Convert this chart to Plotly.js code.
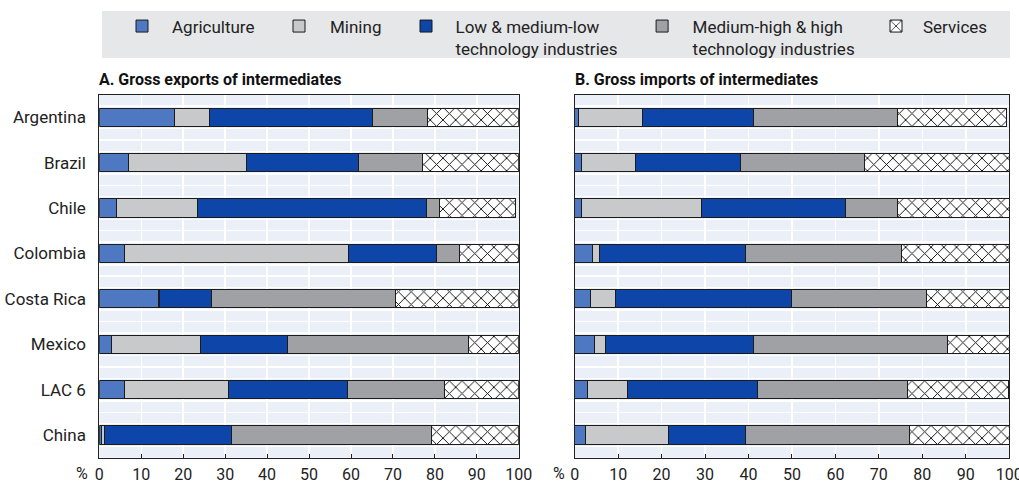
<!DOCTYPE html>
<html>
<head>
<meta charset="utf-8">
<script src="https://cdn.plot.ly/plotly-3.0.1.min.js"></script>
<style>html,body{margin:0;padding:0;background:#fff;}#chart{width:1019px;height:483px;}</style>
</head>
<body>
<div id="chart"></div>
<script>
// ---- data ----
const categories = ['Argentina', 'Brazil', 'Chile', 'Colombia', 'Costa Rica', 'Mexico', 'LAC 6', 'China'];
const seriesNames = ['Agriculture', 'Mining', 'Low & medium-low<br>technology industries', 'Medium-high & high<br>technology industries', 'Services'];

// Panel A: gross exports of intermediates (%)
const agricultureA = [17.9, 7.0, 4.0, 6.0, 14.1, 2.9, 6.1, 0.6];
const miningA      = [8.3, 28.2, 19.4, 53.5, 0.2, 21.2, 24.8, 0.6];
const lowTechA     = [38.9, 26.5, 54.7, 20.9, 12.4, 20.8, 28.2, 30.4];
const highTechA    = [13.2, 15.4, 3.0, 5.4, 43.9, 43.1, 23.2, 47.7];
const servicesA    = [21.7, 22.9, 18.2, 14.2, 29.4, 12.0, 17.7, 20.7];

// Panel B: gross imports of intermediates (%)
const agricultureB = [0.9, 1.5, 1.5, 4.1, 3.7, 4.6, 2.9, 2.4];
const miningB      = [14.8, 12.5, 27.7, 1.6, 5.6, 2.6, 9.2, 19.3];
const lowTechB     = [25.5, 24.2, 33.1, 33.5, 40.6, 33.9, 30.0, 17.7];
const highTechB    = [33.1, 28.5, 12.1, 35.9, 31.1, 44.7, 34.5, 37.7];
const servicesB    = [25.0, 33.3, 25.6, 24.9, 19.0, 14.2, 23.2, 22.9];

const xTickVals = [0, 10, 20, 30, 40, 50, 60, 70, 80, 90, 100];
const panelTitles = ['A. Gross exports of intermediates', 'B. Gross imports of intermediates'];

// ---- styling ----
const FONT = 'Roboto, "Liberation Sans", Arial, sans-serif';
const colors = ['#4f78c3', '#c8c9cb', '#0d45a8', '#a0a1a4', '#ffffff'];
const W = 1019, H = 483;
const px = v => v / W, py = v => 1 - v / H;

const yPos = categories.map((c, i) => i);
const boundaries = categories.slice(1).map((c, i) => i + 0.5);
const quarterGrid = [];
categories.forEach((c, i) => { quarterGrid.push(i - 0.5, i - 0.25, i + 0.25); });
quarterGrid.push(categories.length - 0.5);

const panelA = [agricultureA, miningA, lowTechA, highTechA, servicesA];
const panelB = [agricultureB, miningB, lowTechB, highTechB, servicesB];
const legendItemWidth = [50, 52, 49, 51, 44];

const traces = [];
[panelA, panelB].forEach((panel, p) => {
  panel.forEach((vals, s) => {
    const t = {
      type: 'bar', orientation: 'h',
      x: vals, y: yPos,
      name: seriesNames[s],
      xaxis: p === 0 ? 'x' : 'x2',
      yaxis: p === 0 ? 'y' : 'y2',
      width: 0.4,
      marker: { color: colors[s], line: { color: '#1b1b1b', width: 1 } },
      showlegend: p === 0,
      legend: s === 0 ? 'legend' : 'legend' + (s + 1),
      hoverinfo: 'x+y'
    };
    if (s === 4) {
      t.marker.pattern = { shape: 'x', bgcolor: '#ffffff', fgcolor: '#111111', size: 9, solidity: 0.2 };
    }
    traces.push(t);
  });
});

const xDomA = [px(99.3), px(518.8)];
const xDomB = [px(574.7), px(1009.2)];
const yDom = [1 - 457.7 / H, 1 - 94.5 / H];

function xAxis(domain, anchor) {
  return {
    domain: domain, anchor: anchor, range: [0, 100], fixedrange: true,
    tickvals: xTickVals, ticks: 'inside', ticklen: 4, tickcolor: '#222', tickwidth: 1,
    ticklabeloverflow: 'allow', ticklabelstandoff: 2,
    showgrid: true, gridcolor: '#ffffff', gridwidth: 1.5, zeroline: false,
    showline: true, mirror: true, linecolor: '#222', linewidth: 1,
    tickfont: { family: FONT, size: 16, color: '#222' }, automargin: false
  };
}
function yAxis(anchor, showLabels) {
  return {
    domain: yDom, anchor: anchor, range: [categories.length - 0.5, -0.5], fixedrange: true,
    tickvals: yPos, ticktext: categories, showticklabels: showLabels, ticks: '',
    ticklabelstandoff: 9,
    showgrid: false, zeroline: false,
    minor: { tickmode: 'array', tickvals: quarterGrid, showgrid: true, gridcolor: '#ffffff', gridwidth: 1.5, ticks: '' },
    showline: true, mirror: true, linecolor: '#222', linewidth: 1,
    tickfont: { family: FONT, size: 17, color: '#222' }, automargin: false
  };
}
function tickAxis(over, anchor) {
  return {
    overlaying: over, anchor: anchor, side: 'left', domain: yDom,
    range: [categories.length - 0.5, -0.5], fixedrange: true,
    tickvals: boundaries, ticks: 'inside', ticklen: 3, tickcolor: '#222', tickwidth: 1,
    showticklabels: false, showgrid: false, zeroline: false, showline: false, automargin: false
  };
}

const legendStarts = [172, 330, 455.5, 692.6, 923];
const layout = {
  width: W, height: H, autosize: false,
  margin: { l: 0, r: 0, t: 0, b: 0, pad: 0 },
  paper_bgcolor: '#ffffff', plot_bgcolor: '#ebeff8',
  barmode: 'stack', bargap: 0.6,
  font: { family: FONT, size: 16, color: '#222' },
  xaxis: xAxis(xDomA, 'y'),
  xaxis2: xAxis(xDomB, 'y2'),
  yaxis: yAxis('x', true),
  yaxis2: yAxis('x2', false),
  yaxis3: tickAxis('y', 'x'),
  yaxis4: tickAxis('y2', 'x2'),
  shapes: [{ type: 'rect', xref: 'paper', yref: 'paper', x0: px(102), x1: px(1010), y0: py(58), y1: py(11), fillcolor: '#e6e7e9', line: { width: 0 }, layer: 'below' }],
  annotations: [
    { text: '<b>' + panelTitles[0] + '</b>', xref: 'paper', yref: 'paper', x: px(97), y: py(80), xanchor: 'left', yanchor: 'middle', showarrow: false, font: { family: FONT, size: 16, color: '#111' } },
    { text: '<b>' + panelTitles[1] + '</b>', xref: 'paper', yref: 'paper', x: px(573), y: py(80), xanchor: 'left', yanchor: 'middle', showarrow: false, font: { family: FONT, size: 16, color: '#111' } },
    { text: '%', xref: 'paper', yref: 'paper', x: px(90), y: py(473), xanchor: 'right', yanchor: 'middle', showarrow: false, font: { family: FONT, size: 16, color: '#222' } },
    { text: '%', xref: 'paper', yref: 'paper', x: px(567), y: py(473), xanchor: 'right', yanchor: 'middle', showarrow: false, font: { family: FONT, size: 16, color: '#222' } }
  ]
};
seriesNames.forEach((n, s) => {
  const key = s === 0 ? 'legend' : 'legend' + (s + 1);
  layout[key] = {
    x: px(legendStarts[s] - legendItemWidth[s] - 10), xanchor: 'left',
    y: py(8.5), yanchor: 'top', orientation: 'h', valign: 'top',
    bgcolor: 'rgba(0,0,0,0)', borderwidth: 0, itemwidth: legendItemWidth[s],
    font: { family: FONT, size: 17, color: '#222' }, itemclick: false, itemdoubleclick: false
  };
});

Plotly.newPlot('chart', traces, layout, { displayModeBar: false, staticPlot: true });
</script>
</body>
</html>
